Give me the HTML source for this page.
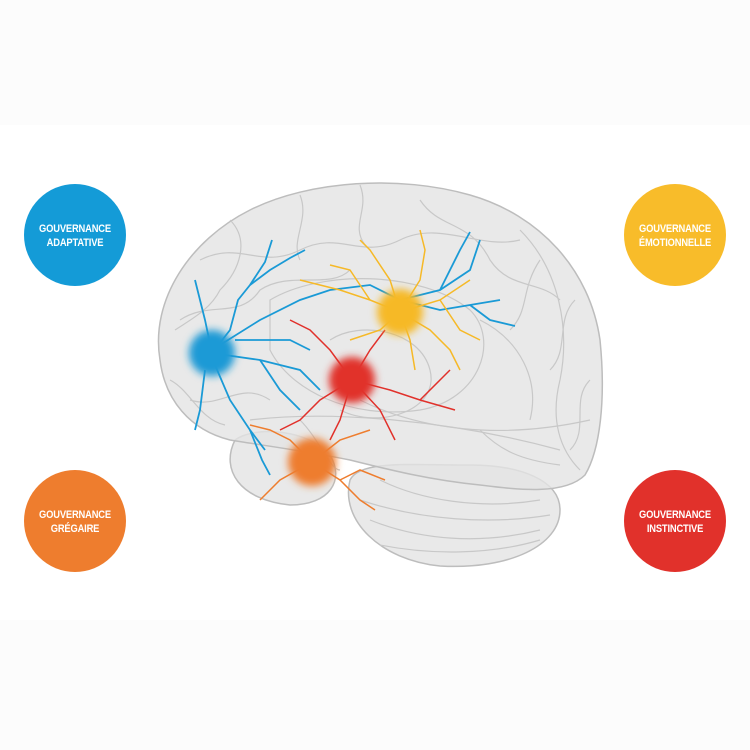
<!DOCTYPE html>
<html><head><meta charset="utf-8"><style>
html,body{margin:0;padding:0;background:#fff}
#w{position:relative;width:750px;height:750px;overflow:hidden;background:#fff}
.c{position:absolute;width:102px;height:102px;border-radius:50%;}
.t{position:absolute;left:0;top:38px;width:102px;color:#fff;font-family:"Liberation Sans",sans-serif;font-weight:bold;font-size:11px;line-height:14px;text-align:center;transform:scaleX(0.85);letter-spacing:-0.2px}
</style></head><body><div id="w">
<div style="position:absolute;left:0;top:0;width:750px;height:125px;background:#fcfcfc"></div>
<div style="position:absolute;left:0;top:620px;width:750px;height:130px;background:#fcfcfc"></div>
<svg width="750" height="750" style="position:absolute;left:0;top:0">
<defs>
<filter id="b" x="-50%" y="-50%" width="200%" height="200%"><feGaussianBlur stdDeviation="4"/></filter>
</defs>
<g fill="#e4e4e4" fill-opacity="0.8" stroke="#bdbdbd" stroke-width="1.5">
<path d="M350,480 C340,520 380,560 440,566 C510,570 560,545 560,510 C560,480 520,465 470,465 C410,465 360,460 350,480Z"/>
<path d="M235,440 C220,470 240,500 290,505 C330,505 345,480 330,455 C310,430 255,425 235,440Z"/>
<path d="M160,360 C150,300 190,240 250,210 C310,180 400,175 470,195 C540,215 590,270 600,340 C606,400 600,450 585,475 C565,495 520,490 480,485 C430,480 390,470 350,460 C300,450 260,445 230,440 C190,430 165,400 160,360Z"/>
</g>
<g fill="none" stroke="#c8c8c8" stroke-width="1.2">
<path d="M200,260 C240,240 260,270 300,250 C340,230 360,260 400,240 C440,220 480,250 520,240"/>
<path d="M180,320 C210,300 240,320 260,290 C290,270 330,290 350,270"/>
<path d="M270,300 C320,270 420,270 470,310 C500,340 480,400 420,410 C350,420 290,390 270,350Z"/>
<path d="M330,340 C360,320 420,330 430,370 C440,410 380,430 340,410"/>
<path d="M250,420 C330,410 450,420 560,450"/>
<path d="M360,400 C420,430 500,440 590,420"/>
<path d="M520,230 C560,270 570,330 560,380 C550,420 560,450 580,470"/>
<path d="M480,320 C520,340 540,380 530,420"/>
<path d="M190,400 C220,410 240,380 270,400"/>
<path d="M380,480 C420,500 480,510 540,500"/>
<path d="M370,520 C420,540 480,545 540,530"/>
<path d="M360,500 C420,520 490,525 550,515"/>
<path d="M380,545 C430,555 490,555 540,540"/>
<path d="M420,200 C440,230 470,220 490,260 C510,290 540,280 560,300"/>
<path d="M230,220 C250,240 240,270 220,290 C210,310 190,320 175,330"/>
<path d="M300,195 C310,220 290,240 300,260"/>
<path d="M360,185 C370,210 350,225 365,245"/>
<path d="M540,260 C520,290 530,310 510,330"/>
<path d="M575,300 C555,320 570,350 550,370"/>
<path d="M590,380 C570,400 590,430 570,450"/>
<path d="M170,380 C190,390 200,420 225,425"/>
<path d="M480,430 C500,450 520,460 560,465"/>
<path d="M300,420 C320,440 330,470 340,470"/>
</g>
<g fill="none" stroke="#1a9ad6" stroke-width="1.8">
<path d="M212,353 L230,330 L238,300 L250,285 L265,262 L272,240"/>
<path d="M250,285 L270,270 L290,258 L305,250"/>
<path d="M212,353 L205,320 L200,300 L195,280"/>
<path d="M220,345 L260,320 L300,300 L330,290 L370,285 L400,300 L440,290 L470,270 L480,240"/>
<path d="M400,300 L440,310 L470,305 L500,300"/>
<path d="M470,305 L490,320 L515,326"/>
<path d="M440,290 L460,250 L470,232"/>
<path d="M225,355 L260,360 L300,370 L320,390"/>
<path d="M260,360 L280,390 L300,410"/>
<path d="M215,365 L230,400 L250,430 L262,460 L270,475"/>
<path d="M250,430 L265,450"/>
<path d="M205,370 L200,410 L195,430"/>
<path d="M235,340 L260,340 L290,340 L310,350"/>
</g>
<g fill="none" stroke="#f6b927" stroke-width="1.5">
<path d="M400,312 L390,280 L370,250 L360,240"/>
<path d="M400,312 L420,280 L425,250 L420,230"/>
<path d="M400,312 L440,300 L470,280"/>
<path d="M400,312 L430,330 L450,350 L460,370"/>
<path d="M400,312 L410,340 L415,370"/>
<path d="M400,312 L370,300 L340,290 L300,280"/>
<path d="M400,312 L380,330 L350,340"/>
<path d="M440,300 L460,330 L480,340"/>
<path d="M370,300 L350,270 L330,265"/>
</g>
<g fill="none" stroke="#e1312b" stroke-width="1.5">
<path d="M352,380 L330,350 L310,330 L290,320"/>
<path d="M352,380 L370,350 L385,330"/>
<path d="M352,380 L390,390 L420,400 L455,410"/>
<path d="M420,400 L440,380 L450,370"/>
<path d="M352,380 L380,410 L395,440"/>
<path d="M352,380 L320,400 L300,420 L280,430"/>
<path d="M352,380 L340,420 L330,440"/>
</g>
<g fill="none" stroke="#ee7d2e" stroke-width="1.5">
<path d="M312,462 L290,440 L270,430 L250,425"/>
<path d="M312,462 L340,440 L370,430"/>
<path d="M312,462 L340,480 L360,500 L375,510"/>
<path d="M312,462 L280,480 L260,500"/>
<path d="M340,480 L360,470 L385,480"/>
</g>
<g filter="url(#b)">
<circle cx="212" cy="353" r="23" fill="#1a9ad6"/>
<circle cx="400" cy="312" r="23" fill="#f6b927"/>
<circle cx="352" cy="380" r="23" fill="#e1312b"/>
<circle cx="312" cy="462" r="24" fill="#ee7d2e"/>
</g>
</svg>
<div class="c" style="left:24px;top:184px;background:#149bd7"><div class="t">GOUVERNANCE<br>ADAPTATIVE</div></div>
<div class="c" style="left:624px;top:184px;background:#f8bc2a"><div class="t">GOUVERNANCE<br>ÉMOTIONNELLE</div></div>
<div class="c" style="left:24px;top:470px;background:#ee7d2e"><div class="t">GOUVERNANCE<br>GRÉGAIRE</div></div>
<div class="c" style="left:624px;top:470px;background:#e1312b"><div class="t">GOUVERNANCE<br>INSTINCTIVE</div></div>
</div></body></html>
